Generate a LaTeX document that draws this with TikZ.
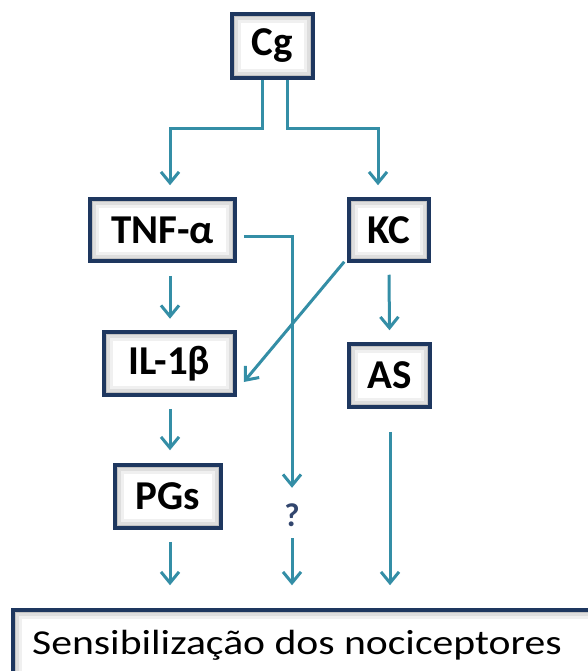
\documentclass[tikz,border=0pt]{standalone}
\usepackage{fontspec}
\setmainfont{Carlito}
\usetikzlibrary{arrows.meta,calc}
\definecolor{arrowteal}{RGB}{52,142,166}
\definecolor{boxnavy}{RGB}{30,55,95}
\definecolor{qnavy}{RGB}{50,70,110}
\begin{document}
\begin{tikzpicture}[x=1pt,y=-1pt,
  bevel/.style={path picture={
    \fill[black!24] (path picture bounding box.south west) rectangle (path picture bounding box.north east);
    \fill[black!13] ([shift={(3pt,3pt)}]path picture bounding box.south west) rectangle ([shift={(-3pt,-3pt)}]path picture bounding box.north east);
    \fill[black!6] ([shift={(6pt,6pt)}]path picture bounding box.south west) rectangle ([shift={(-6pt,-6pt)}]path picture bounding box.north east);
    \fill[white] ([shift={(9pt,9pt)}]path picture bounding box.south west) rectangle ([shift={(-9pt,-9pt)}]path picture bounding box.north east);
  }},
  box/.style={draw=boxnavy, line width=3.5pt, inner sep=0pt, bevel,
    font=\fontsize{41}{44}\selectfont\bfseries},
  conn/.style={draw=arrowteal, line width=3pt,
    -{Straight Barb[length=11pt,width=18pt,line width=3pt]}},
]
\useasboundingbox (0,0) rectangle (588,671);
\clip (0,0) rectangle (588,671);

\node[box, minimum width=81pt, minimum height=64pt] (cg)  at (272.5,46)  {Cg};
\node[box, minimum width=145pt, minimum height=62pt] (tnf) at (162.5,230) {TNF-α};
\node[box, minimum width=80pt, minimum height=62pt] (kc)  at (389,230)   {KC};
\node[box, minimum width=131pt, minimum height=63pt] (il)  at (169.5,363.5) {IL-1β};
\node[box, minimum width=81pt, minimum height=63pt] (as)  at (389.5,375.5) {AS};
\node[box, minimum width=106pt, minimum height=63pt] (pgs) at (168,496.5) {PGs};
\node[box, minimum width=605pt, minimum height=88pt] (bottom) at (315.5,654) {};
\node[inner sep=0pt, xscale=1.19, font=\fontsize{35}{40}\selectfont] (btext) at (297,645) {Sensibilização dos nociceptores};
\node[inner sep=0pt, minimum height=26pt, text=qnavy, font=\fontsize{33}{36}\selectfont\bfseries] (q) at (292,515) {?};

% free ends
\coordinate (pgsout) at ([xshift=2pt,yshift=-12pt]pgs.south);
\coordinate (in1) at (pgsout |- bottom.north);
\coordinate (qout) at ([yshift=-10pt]q.south);
\coordinate (in2) at (qout |- bottom.north);
\coordinate (asout) at ([xshift=0.5pt,yshift=-23pt]as.south);
\coordinate (in3) at (asout |- bottom.north);

\draw[conn] ([xshift=-10.5pt]cg.south) -- ++(0,49) -| ([xshift=7.5pt,yshift=12pt]tnf.north);
\draw[conn] ([xshift=14.5pt]cg.south) -- ++(0,49) -| ([xshift=-11pt,yshift=12pt]kc.north);
\draw[conn] ([xshift=7.5pt,yshift=-13pt]tnf.south) -- ([xshift=0.5pt,yshift=11.5pt]il.north);
\draw[conn] ([xshift=0.5pt,yshift=-12pt]il.south) -- ([xshift=2pt,yshift=13pt]pgs.north);
\draw[conn] (pgsout) -- ([yshift=23pt]in1);
\draw[conn] ([xshift=7pt,yshift=-6pt]tnf.east) -| ([yshift=14pt]q.north);
\draw[conn] (qout) -- ([yshift=23pt]in2);
\draw[conn] ([xshift=-3pt,yshift=1pt]kc.south west) -- ([xshift=7pt,yshift=-18.5pt]il.east);
\draw[conn] ([yshift=-12pt]kc.south) -- ([yshift=12pt]as.north);
\draw[conn] (asout) -- ([yshift=23pt]in3);
\end{tikzpicture}
\end{document}
